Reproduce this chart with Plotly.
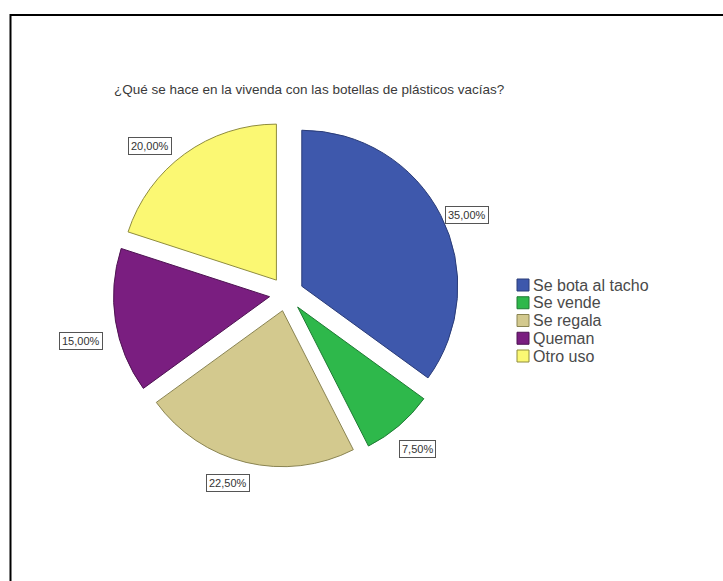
import math
import plotly.graph_objects as go

# Survey answers and their shares (%)
categories = ["Se bota al tacho", "Se vende", "Se regala", "Queman", "Otro uso"]
percentages = [35.0, 7.5, 22.5, 15.0, 20.0]
title_text = "¿Qué se hace en la vivenda con las botellas de plásticos vacías?"

# Styling
colors = ["#3E58AC", "#2EB84B", "#D3C98E", "#7A1E80", "#FBF873"]
edge_colors = ["#2A3C78", "#1F7A33", "#8A8452", "#4E1352", "#8F8C3E"]
FONT = "Liberation Sans, Arial, sans-serif"

W, H = 723, 581
cx, cy = 286.5, 294.0      # pie centre (px)
R = 156.0                   # pie radius (px)
PULL = 0.11                 # explode fraction of every slice
half = R * (1 + PULL)


def px_x(v):
    return v / W


def px_y(v):
    return 1 - v / H


dom_x = [px_x(cx - half), px_x(cx + half)]
dom_y = [px_y(cy + half), px_y(cy - half)]

fig = go.Figure()
fig.add_trace(go.Pie(
    labels=categories,
    values=percentages,
    sort=False,
    direction="clockwise",
    rotation=0,
    pull=[PULL] * len(percentages),
    marker=dict(colors=colors, line=dict(color=edge_colors, width=1)),
    textinfo="none",
    hoverinfo="label+percent",
    domain=dict(x=dom_x, y=dom_y),
    showlegend=False,
))

# Boxed percentage labels placed just outside each slice's rim
label_nudges = [(4, 0), (0, 14), (-18, 12), (-12, 20), (-13, 1)]
total = sum(percentages)
start = 0.0
annotations = []
for val, (nx, ny) in zip(percentages, label_nudges):
    span = 360.0 * val / total
    mid = math.radians(start + span / 2)
    start += span
    ux, uy = math.sin(mid), -math.cos(mid)          # screen direction (y down)
    px = cx + PULL * R * ux + R * ux
    py = cy + PULL * R * uy + R * uy
    xa = "left" if ux > 0.3 else ("right" if ux < -0.3 else "center")
    ya = "top" if uy > 0.6 else ("bottom" if uy < -0.6 else "middle")
    annotations.append(dict(
        x=px_x(px), y=px_y(py), xref="paper", yref="paper",
        xanchor=xa, yanchor=ya, xshift=nx, yshift=-ny,
        text=f"{val:.2f}%".replace(".", ","),
        showarrow=False,
        font=dict(family=FONT, size=11, color="#333333"),
        bgcolor="white", bordercolor="#555555", borderwidth=1, borderpad=2,
    ))

# Chart title
annotations.append(dict(
    x=px_x(112), y=px_y(90), xref="paper", yref="paper",
    xanchor="left", yanchor="middle", showarrow=False,
    text=title_text,
    font=dict(family=FONT, size=13.5, color="#3a3a3a"),
))

# Compact legend: square swatch followed by the category name
shapes = []
leg_x, leg_y, leg_step, sw = 517, 285, 17.75, 12
for i, (name, col, edge) in enumerate(zip(categories, colors, edge_colors)):
    yc = leg_y + i * leg_step
    shapes.append(dict(
        type="rect", xref="paper", yref="paper",
        x0=px_x(leg_x), x1=px_x(leg_x + sw),
        y0=px_y(yc + sw / 2), y1=px_y(yc - sw / 2),
        fillcolor=col, line=dict(color=edge, width=1),
    ))
    annotations.append(dict(
        x=px_x(leg_x + sw + 2), y=px_y(yc), xref="paper", yref="paper",
        xanchor="left", yanchor="middle", showarrow=False,
        text=name, font=dict(family=FONT, size=16, color="#4a4a4a"),
    ))

# Outer frame
shapes.append(dict(
    type="rect", xref="paper", yref="paper",
    x0=px_x(10.5), x1=1.02, y0=-0.02, y1=px_y(15),
    line=dict(color="black", width=2), fillcolor="rgba(0,0,0,0)",
    layer="above",
))

fig.update_layout(
    width=W, height=H,
    margin=dict(l=0, r=0, t=0, b=0),
    paper_bgcolor="white",
    plot_bgcolor="white",
    annotations=annotations,
    shapes=shapes,
    showlegend=False,
)

fig.write_html("out.html")
